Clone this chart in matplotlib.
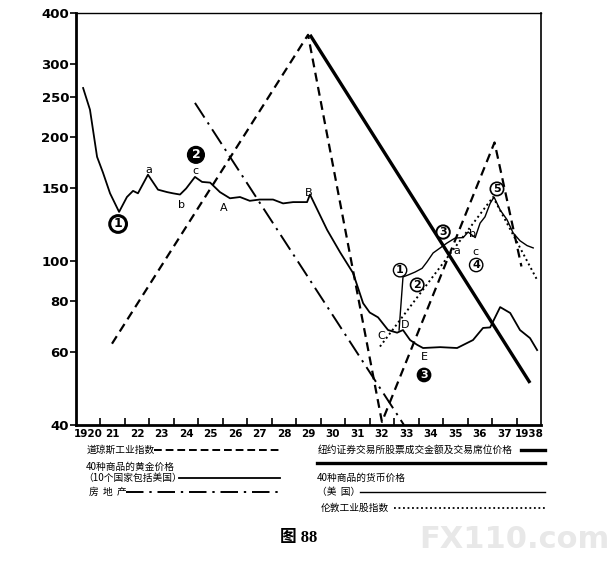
import matplotlib
matplotlib.use("Agg")
import matplotlib.pyplot as plt
from matplotlib.lines import Line2D

plt.rcParams['font.family'] = ['DejaVu Sans', 'Noto Sans CJK SC']

# 40种商品的黄金价格 (1920-1938)
gold_years = [1920.29, 1920.57, 1920.86, 1921.1, 1921.39, 1921.76, 1922.08, 1922.33, 1922.53,
              1922.94, 1923.35, 1923.72, 1923.96, 1924.25, 1924.5, 1924.86, 1925.15, 1925.48,
              1925.88, 1926.29, 1926.7, 1927.1, 1927.5, 1928.05, 1928.46, 1928.87, 1929.44,
              1929.56, 1930.26, 1930.79, 1931.32, 1931.73, 1932.0, 1932.34, 1932.75, 1933.12,
              1933.36, 1933.65, 1933.94, 1934.18, 1934.88, 1935.57, 1936.22, 1936.63, 1936.92,
              1937.33, 1937.74, 1938.14, 1938.55, 1938.84]
gold_vals = [263, 233, 179, 164, 146, 131.6, 143, 148, 146,
             162, 149, 147, 146, 145, 150, 160, 155.6, 155,
             147, 142, 143, 140, 141, 141, 138, 139, 139,
             145, 119, 105, 93.5, 79, 75, 73, 68, 67,
             68, 64.3, 62.6, 61.5, 61.8, 61.5, 64.3, 68.8, 69,
             77.3, 74.8, 68, 65, 60.8]

# 40种商品的货币价格（美国）, branches off in 1933
money_years = [1933.2, 1933.36, 1933.57, 1933.85, 1934.14, 1934.34, 1934.59, 1934.88, 1935.16,
               1935.49, 1935.82, 1936.02, 1936.31, 1936.51, 1936.71, 1936.92, 1937.08, 1937.33,
               1937.61, 1937.86, 1938.14, 1938.43, 1938.68]
money_vals = [68, 91.5, 92.5, 94, 96, 99.5, 104.6, 107.6, 110.6,
              113.7, 114, 117.6, 114, 123.6, 128, 138, 143, 133,
              126, 117, 112, 109, 107.6]

# 道琼斯工业指数
dow_years = [1921.47, 1929.48, 1932.5, 1937.1, 1938.2]
dow_vals = [63, 354, 40.7, 194, 97]

# 纽约证券交易所股票成交金额及交易席位价格
nyse_years = [1929.56, 1938.55]
nyse_vals = [354, 50.6]

# 房地产
estate_years = [1924.86, 1933.4]
estate_vals = [242, 40]

# 伦敦工业股指数
london_years = [1932.42, 1937.04, 1938.84]
london_vals = [62, 143, 90]

year_ticks = list(range(1921, 1939))
year_labels = ['1920'] + [str(y)[2:] for y in range(1921, 1938)] + ['1938']
value_ticks = [40, 60, 80, 100, 150, 200, 250, 300, 400]

fig = plt.figure(figsize=(6.16, 5.79), dpi=100)
ax = fig.add_axes([0.1234, 0.266, 0.7549, 0.7116])
ax.set_yscale('log')
ax.set_xlim(1920, 1939)
ax.set_ylim(40, 400)

ax.plot(gold_years, gold_vals, color='black', lw=1.3)
ax.plot(money_years, money_vals, color='black', lw=1.0)
ax.plot(dow_years, dow_vals, color='black', lw=1.6, dashes=(4, 2.5))
ax.plot(nyse_years, nyse_vals, color='black', lw=2.4, solid_capstyle='butt')
ax.plot(estate_years, estate_vals, color='black', lw=1.4, dashes=(9, 3, 1.2, 3))
ax.plot(london_years, london_vals, color='black', lw=1.4, dashes=(1, 1.6))

ax.set_yticks(value_ticks)
ax.set_yticklabels([str(v) for v in value_ticks])
ax.yaxis.set_minor_locator(plt.NullLocator())
ax.tick_params(axis='y', direction='out', length=4, width=1.2, labelsize=9.5, pad=1)
for lab in ax.get_yticklabels():
    lab.set_fontweight('bold')

ax.set_xticks(year_ticks)
ax.set_xticklabels([])
ax.set_xticks([y + 0.5 for y in range(1920, 1939)], minor=True)
ax.set_xticklabels(year_labels, minor=True, fontsize=7.5, fontweight='bold')
ax.tick_params(axis='x', which='major', direction='in', length=5, width=1.2)
ax.tick_params(axis='x', which='minor', length=0, pad=3)

for side, w in [('left', 2.0), ('bottom', 2.0), ('top', 1.0), ('right', 1.2)]:
    ax.spines[side].set_linewidth(w)

# wave labels
def ring(x, y, s, lw=1.0, fill=False, size=8):
    ax.text(x, y, s, ha='center', va='center', fontsize=size, fontweight='bold',
            color='white' if fill else 'black',
            bbox=dict(boxstyle='circle,pad=0.15', fc='black' if fill else 'white',
                      ec='black', lw=lw))

ring(1921.72, 123, '1', lw=2.2, size=9)
ring(1924.9, 181, '2', fill=True, size=9)
ring(1934.22, 52.9, '3', fill=True, size=8)
ring(1933.24, 95, '1', lw=1.0)
ring(1933.94, 87.5, '2', lw=1.2)
ring(1935.0, 117.6, '3', lw=1.4)
ring(1936.35, 97.8, '4', lw=1.0)
ring(1937.2, 149.6, '5', lw=1.2)

letters = [(1922.98, 166, 'a'), (1924.29, 137, 'b'), (1924.86, 165, 'c'),
           (1926.05, 134.6, 'A'), (1929.52, 146, 'B'), (1932.46, 65.8, 'C'),
           (1933.45, 70, 'D'), (1934.22, 58.5, 'E'), (1935.57, 105.7, 'a'),
           (1936.22, 116, 'b'), (1936.31, 105, 'c')]
for x, y, s in letters:
    ax.text(x, y, s, ha='center', va='center', fontsize=8)

# legend under the chart
cjk = ['Noto Sans CJK SC', 'DejaVu Sans']
fs = 7
fig.text(0.140, 0.2228, '道琼斯工业指数', fontsize=fs, family=cjk, va='center')
fig.add_artist(Line2D([0.250, 0.455], [0.2228, 0.2228], color='black', lw=1.4, dashes=(4, 2)))
fig.text(0.140, 0.1934, '40种商品的黄金价格', fontsize=fs, family=cjk, va='center')
fig.text(0.135, 0.1744, '（10个国家包括美国）', fontsize=fs, family=cjk, va='center')
fig.add_artist(Line2D([0.290, 0.455], [0.1744, 0.1744], color='black', lw=1.3))
fig.text(0.145, 0.150, '房  地  产', fontsize=fs, family=cjk, va='center')
fig.add_artist(Line2D([0.205, 0.455], [0.150, 0.150], color='black', lw=1.4, dashes=(9, 3, 1.2, 3)))

fig.text(0.515, 0.2228, '纽约证券交易所股票成交金额及交易席位价格', fontsize=fs, family=cjk, va='center')
fig.add_artist(Line2D([0.845, 0.885], [0.2228, 0.2228], color='black', lw=2.4))
fig.add_artist(Line2D([0.515, 0.885], [0.2003, 0.2003], color='black', lw=2.4))
fig.text(0.515, 0.1744, '40种商品的货币价格', fontsize=fs, family=cjk, va='center')
fig.text(0.515, 0.150, '（美  国）', fontsize=fs, family=cjk, va='center')
fig.add_artist(Line2D([0.585, 0.885], [0.150, 0.150], color='black', lw=1.0))
fig.text(0.520, 0.1226, '伦敦工业股指数', fontsize=fs, family=cjk, va='center')
fig.add_artist(Line2D([0.640, 0.885], [0.1226, 0.1226], color='black', lw=1.3, dashes=(1, 1.5)))

fig.text(0.484, 0.0708, '图 88', fontsize=12, fontweight='bold',
         family=['Liberation Serif', 'Noto Sans CJK SC'], ha='center', va='center')
fig.text(0.99, 0.068, 'FX110.com', fontsize=22, fontweight='bold', color='#e8e8e8',
         ha='right', va='center')

fig.savefig('out.png', dpi=100)
